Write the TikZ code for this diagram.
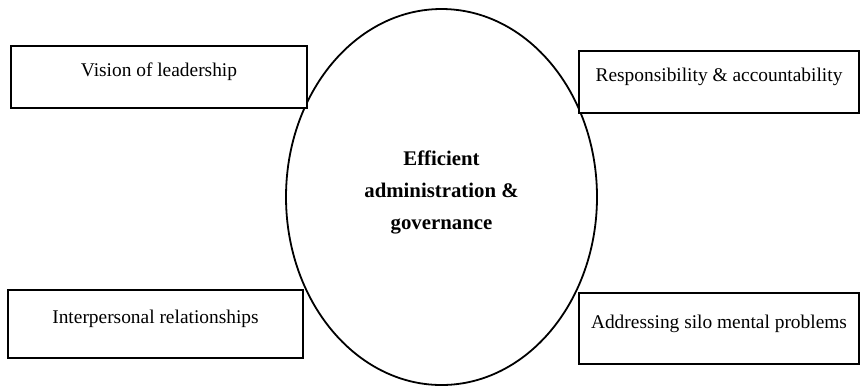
\documentclass[tikz,border=0pt]{standalone}
\usepackage{fontspec}
\setmainfont{Liberation Serif}
\usetikzlibrary{shapes.geometric}

\begin{document}
\begin{tikzpicture}[x=0.5pt,y=-0.5pt,
    factor/.style={draw, line width=0.9pt, fill=white, rectangle, inner sep=0pt,
        font=\fontsize{9.7}{11}\selectfont},
    hub/.style={draw, line width=0.9pt, ellipse, inner sep=0pt, align=center,
        minimum width=155.5pt, minimum height=188pt,
        font=\bfseries\fontsize{10.4}{16}\selectfont}]
    \useasboundingbox (0,0) rectangle (860,387);

    \node[hub, text depth=6.7pt] (core) at (441.5,197) {Efficient\\administration \&\\governance};

    % the four boxes sit on top of the ellipse
    \node[factor, minimum width=148pt, text height=15pt, text depth=16pt] (vision) at (159,77) {Vision of leadership};
    \node[factor, minimum width=140pt, text height=15.2pt, text depth=15.8pt] (resp) at (719,82) {Responsibility \& accountability};
    \node[factor, minimum width=147.5pt, text height=16.5pt, text depth=17.5pt] (inter) at (155.5,324) {Interpersonal relationships};
    \node[factor, minimum width=140pt, text height=17.5pt, text depth=18pt] (silo) at (719,328.5) {Addressing silo mental problems};
\end{tikzpicture}
\end{document}
